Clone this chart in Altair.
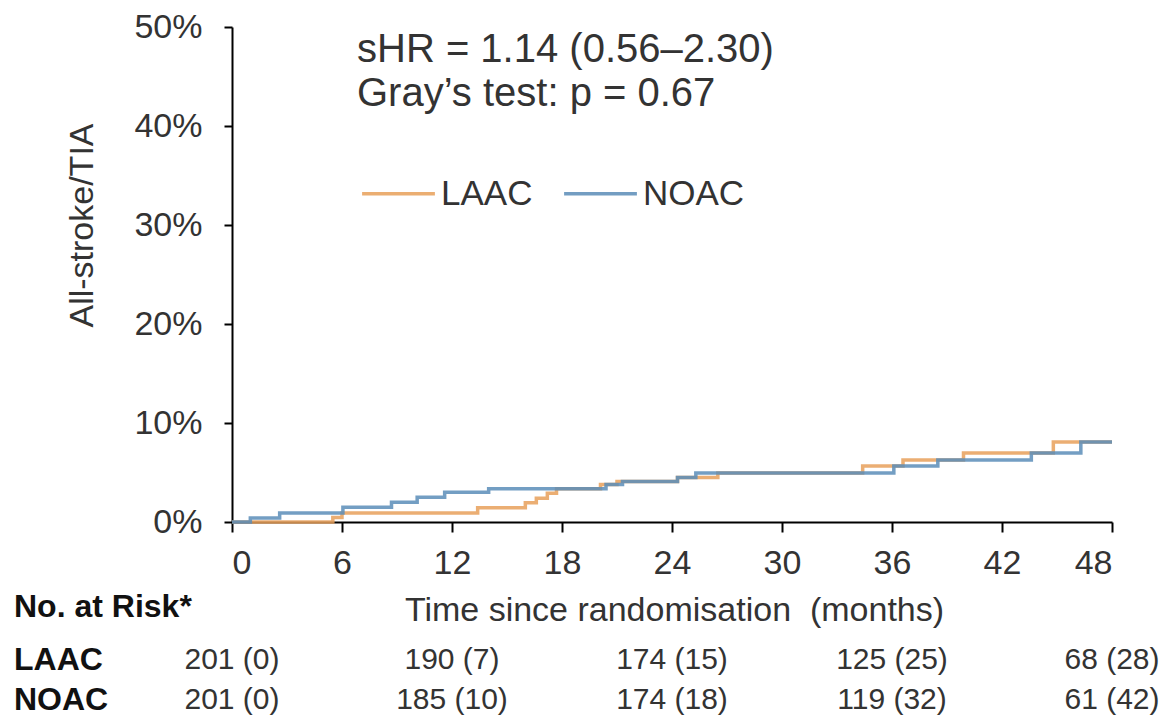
import altair as alt
import pandas as pd

FONT = "Liberation Sans"

# Step curves (months, cumulative incidence %)
laac_months = [0, 5.5, 6.0, 13.4, 16.0, 16.6, 17.2, 17.7, 20.1, 21.0, 24.3, 26.5, 34.4, 36.6, 39.9, 44.8, 48]
laac_pct = [0, 0.45, 0.9, 1.45, 1.95, 2.4, 2.9, 3.35, 3.8, 4.1, 4.5, 4.95, 5.65, 6.26, 6.97, 8.08, 8.08]
noac_months = [0, 1.0, 2.6, 6.05, 8.7, 10.1, 11.6, 14.0, 20.4, 21.3, 24.3, 25.3, 36.1, 38.5, 43.6, 46.3, 48]
noac_pct = [0, 0.4, 0.9, 1.5, 2.0, 2.5, 3.0, 3.35, 3.8, 4.1, 4.5, 4.95, 5.65, 6.26, 6.97, 8.08, 8.08]

groups = ["LAAC", "NOAC"]
colors = ["#E8A05A", "#5B8DB8"]

x_ticks = [0, 6, 12, 18, 24, 30, 36, 42, 48]
y_ticks = [0, 0.1, 0.2, 0.3, 0.4, 0.5]

risk_months = [0, 12, 24, 36, 48]
laac_at_risk = ["201 (0)", "190 (7)", "174 (15)", "125 (25)", "68 (28)"]
noac_at_risk = ["201 (0)", "185 (10)", "174 (18)", "119 (32)", "61 (42)"]

annotation = ["sHR = 1.14 (0.56\u20132.30)", "Gray\u2019s test: p = 0.67"]
row_titles = ["No. at Risk*", "LAAC", "NOAC"]

curves = pd.concat([
    pd.DataFrame({"month": laac_months, "risk": [v / 100 for v in laac_pct], "group": "LAAC", "order": range(len(laac_months))}),
    pd.DataFrame({"month": noac_months, "risk": [v / 100 for v in noac_pct], "group": "NOAC", "order": range(len(noac_months))}),
])

x_scale = alt.Scale(domain=[0, 48], nice=False)
y_scale = alt.Scale(domain=[0, 0.5], nice=False)

lines = alt.Chart(curves).mark_line(interpolate="step-after", strokeWidth=3.5, opacity=0.85).encode(
    x=alt.X("month:Q", scale=x_scale,
            axis=alt.Axis(values=x_ticks, format="d", title="Time since randomisation\u00a0 (months)",
                          titleX=442, titleY=88, titleAlign="center", titleBaseline="middle",
                          labelPadding=14, tickSize=10)),
    y=alt.Y("risk:Q", scale=y_scale,
            axis=alt.Axis(values=y_ticks, format=".0%", title="All-stroke/TIA",
                          titleX=-150, titleY=198, titleAngle=270, titleAlign="center",
                          titleBaseline="middle", labelPadding=22, tickSize=8)),
    color=alt.Color("group:N", scale=alt.Scale(domain=groups, range=colors),
                    legend=alt.Legend(orient="none", legendX=128, legendY=128, direction="horizontal",
                                      title=None, symbolType="stroke", symbolSize=5300,
                                      symbolStrokeWidth=3.5, labelFontSize=35, labelFont=FONT,
                                      labelColor="#333333", columnPadding=24, labelOffset=4,
                                      padding=0)),
    order="order:Q",
)


def text_line(txt, x, y, size, weight="normal", color="#333333"):
    return alt.Chart(pd.DataFrame({"t": [txt]})).mark_text(
        align="left", baseline="alphabetic" if weight == "normal" else "middle",
        font=FONT, fontSize=size, fontWeight=weight, color=color).encode(
        x=alt.value(x), y=alt.value(y), text="t:N")


ann1 = text_line(annotation[0], 125, 35, 40)
ann2 = text_line(annotation[1], 125, 79, 40)

hdr = text_line(row_titles[0], -218, 580, 32, "bold", "#111111")
lab1 = text_line(row_titles[1], -218, 633, 32, "bold", "#111111")
lab2 = text_line(row_titles[2], -218, 673, 32, "bold", "#111111")


def risk_row(values, y):
    return alt.Chart(pd.DataFrame({"month": risk_months, "txt": values})).mark_text(
        align="center", baseline="middle", font=FONT, fontSize=30, color="#333333").encode(
        x=alt.X("month:Q", scale=x_scale), y=alt.value(y), text="txt:N")


tbl_laac = risk_row(laac_at_risk, 633)
tbl_noac = risk_row(noac_at_risk, 673)

chart = alt.layer(lines, ann1, ann2, tbl_laac, tbl_noac, hdr, lab1, lab2).properties(
    width=880, height=495,
    autosize=alt.AutoSizeParams(type="none"),
    padding={"left": 224, "top": 19, "right": 51, "bottom": 196},
).configure_view(stroke=None).configure_axis(
    grid=False, domainColor="black", domainWidth=2, tickColor="black", tickWidth=2,
    labelFont=FONT, labelFontSize=34, labelColor="#333333",
    titleFont=FONT, titleFontSize=34, titleFontWeight="normal", titleColor="#333333",
)

chart.save("out.html", embed_options={"renderer": "svg", "actions": False})
